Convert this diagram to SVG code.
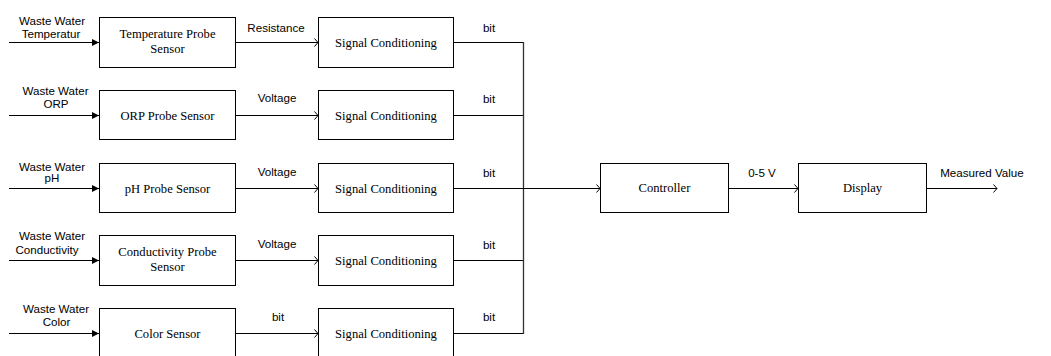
<svg xmlns="http://www.w3.org/2000/svg" width="1051" height="356" viewBox="0 0 1051 356">
<style>
.box{fill:#fff;stroke:#000;stroke-width:1}
.ln{fill:none;stroke:#000;stroke-width:1}
.bus{fill:none;stroke:#333;stroke-width:1.3}
.bt{font-family:"Liberation Serif",serif;font-size:12.6px;fill:#000;text-anchor:middle}
.lb{font-family:"Liberation Sans",Arial,sans-serif;font-size:11.6px;fill:#000;text-anchor:middle}
</style>
<defs>
<marker id="fill" markerUnits="userSpaceOnUse" markerWidth="10" markerHeight="10" refX="8" refY="5" orient="auto" viewBox="0 0 10 10">
<path d="M1,1.5 L8,5 L1,8.5 Z" fill="#000"/>
</marker>
<marker id="open" markerUnits="userSpaceOnUse" markerWidth="10" markerHeight="10" refX="8" refY="5" orient="auto" viewBox="0 0 10 10">
<path d="M4.5,1 L8,5 L4.5,9" fill="none" stroke="#000" stroke-width="1"/>
</marker>
</defs>
<rect width="1051" height="356" fill="#fff"/>

<g id="connectors">
<line class="ln" x1="9" y1="42.5" x2="99" y2="42.5" marker-end="url(#fill)"/>
<line class="ln" x1="9" y1="115.5" x2="99" y2="115.5" marker-end="url(#fill)"/>
<line class="ln" x1="9" y1="188.5" x2="99" y2="188.5" marker-end="url(#fill)"/>
<line class="ln" x1="9" y1="260.5" x2="99" y2="260.5" marker-end="url(#fill)"/>
<line class="ln" x1="9" y1="333.5" x2="99" y2="333.5" marker-end="url(#fill)"/>

<line class="ln" x1="236" y1="42.5" x2="318" y2="42.5" marker-end="url(#open)"/>
<line class="ln" x1="236" y1="115.5" x2="318" y2="115.5" marker-end="url(#open)"/>
<line class="ln" x1="236" y1="188.5" x2="318" y2="188.5" marker-end="url(#open)"/>
<line class="ln" x1="236" y1="260.5" x2="318" y2="260.5" marker-end="url(#open)"/>
<line class="ln" x1="236" y1="333.5" x2="318" y2="333.5" marker-end="url(#open)"/>

<line class="ln" x1="454" y1="42.5" x2="523.5" y2="42.5"/>
<line class="ln" x1="454" y1="115.5" x2="523.5" y2="115.5"/>
<line class="ln" x1="454" y1="260.5" x2="523.5" y2="260.5"/>
<line class="ln" x1="454" y1="333.5" x2="523.5" y2="333.5"/>
<line class="bus" x1="523.5" y1="42" x2="523.5" y2="334"/>
<line class="ln" x1="454" y1="188.5" x2="600" y2="188.5" marker-end="url(#open)"/>

<line class="ln" x1="728" y1="188.5" x2="798" y2="188.5" marker-end="url(#open)"/>
<line class="ln" x1="927" y1="188.5" x2="997" y2="188.5" marker-end="url(#open)"/>

<text class="lb" x="276" y="32">Resistance</text>
<text class="lb" x="277" y="102">Voltage</text>
<text class="lb" x="277" y="176">Voltage</text>
<text class="lb" x="277" y="248">Voltage</text>
<text class="lb" x="278" y="321">bit</text>

<text class="lb" x="489" y="32">bit</text>
<text class="lb" x="489" y="103">bit</text>
<text class="lb" x="489" y="177">bit</text>
<text class="lb" x="489" y="249">bit</text>
<text class="lb" x="489" y="321">bit</text>

<text class="lb" x="762" y="177">0-5 V</text>
<text class="lb" x="982" y="177">Measured Value</text>

<text class="lb" x="52" y="25">Waste Water</text>
<text class="lb" x="51" y="38">Temperatur</text>
<text class="lb" x="55.5" y="95">Waste Water</text>
<text class="lb" x="56" y="108">ORP</text>
<text class="lb" x="52" y="171">Waste Water</text>
<text class="lb" x="52" y="182">pH</text>
<text class="lb" x="52" y="240">Waste Water</text>
<text class="lb" x="47" y="254">Conductivity</text>
<text class="lb" x="56" y="313">Waste Water</text>
<text class="lb" x="56.5" y="326">Color</text>
</g>

<g id="temp-sensor"><rect class="box" x="99.5" y="17.5" width="136" height="50"/><text class="bt" x="167.5" y="38">Temperature Probe</text><text class="bt" x="167.5" y="53">Sensor</text></g>
<g id="orp-sensor"><rect class="box" x="99.5" y="90.5" width="136" height="49"/><text class="bt" x="167.5" y="119.5">ORP Probe Sensor</text></g>
<g id="ph-sensor"><rect class="box" x="99.5" y="163.5" width="136" height="49"/><text class="bt" x="167.5" y="192.5">pH Probe Sensor</text></g>
<g id="cond-sensor"><rect class="box" x="99.5" y="235.5" width="136" height="50"/><text class="bt" x="167.5" y="255.5">Conductivity Probe</text><text class="bt" x="167.5" y="270.5">Sensor</text></g>
<g id="color-sensor"><rect class="box" x="99.5" y="308.5" width="136" height="50"/><text class="bt" x="167.5" y="337.5">Color Sensor</text></g>

<g id="sc1"><rect class="box" x="318.5" y="17.5" width="135" height="50"/><text class="bt" x="386" y="46.5">Signal Conditioning</text></g>
<g id="sc2"><rect class="box" x="318.5" y="90.5" width="135" height="49"/><text class="bt" x="386" y="119.5">Signal Conditioning</text></g>
<g id="sc3"><rect class="box" x="318.5" y="163.5" width="135" height="49"/><text class="bt" x="386" y="192.5">Signal Conditioning</text></g>
<g id="sc4"><rect class="box" x="318.5" y="235.5" width="135" height="50"/><text class="bt" x="386" y="264.5">Signal Conditioning</text></g>
<g id="sc5"><rect class="box" x="318.5" y="308.5" width="135" height="50"/><text class="bt" x="386" y="337.5">Signal Conditioning</text></g>

<g id="controller"><rect class="box" x="600.5" y="163.5" width="128" height="49"/><text class="bt" x="664.5" y="192">Controller</text></g>
<g id="display"><rect class="box" x="798.5" y="163.5" width="128" height="49"/><text class="bt" x="862.5" y="192">Display</text></g>
</svg>
